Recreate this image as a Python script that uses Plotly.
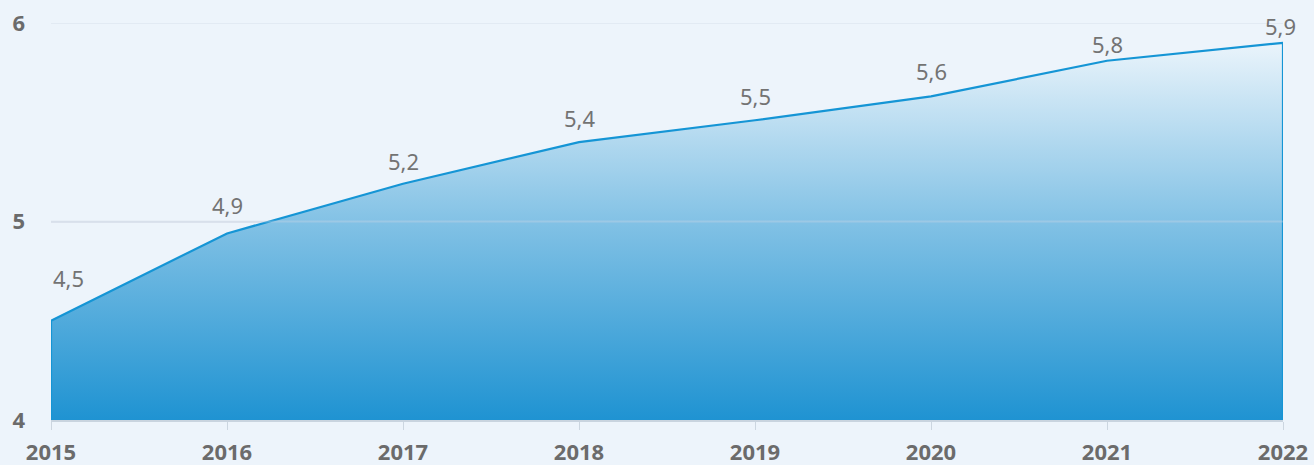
import plotly.graph_objects as go

years = [2015, 2016, 2017, 2018, 2019, 2020, 2021, 2022]
values = [4.50, 4.94, 5.19, 5.40, 5.51, 5.63, 5.81, 5.90]
labels = ["4,5", "4,9", "5,2", "5,4", "5,5", "5,6", "5,8", "5,9"]
y_ticks = [4, 5, 6]
y_min = 4

BG = "#edf4fb"
LINE = "#1595d5"
GREY = "#6b6b6b"
label_yshift = [26, 11, 6, 7, 7, 8, 0, 0]  # pixel offsets of value labels

fig = go.Figure()

# closed area polygon (vertical edges down to the axis)
poly_x = [years[0]] + years + [years[-1]]
poly_y = [y_min] + values + [y_min]
fig.add_trace(go.Scatter(
    x=poly_x, y=poly_y, mode="lines", fill="toself",
    line=dict(color=LINE, width=2.2),
    fillgradient=dict(type="vertical",
                      colorscale=[[0, "#1f93d2"], [0.5, "#7dbfe4"], [1, "#eaf4fb"]]),
    hoverinfo="skip", showlegend=False,
))

# faint gridlines drawn over the area
for v in y_ticks[1:]:
    fig.add_shape(type="line", xref="paper", x0=0, x1=1, yref="y", y0=v, y1=v,
                  line=dict(color="rgba(205,215,228,0.35)", width=2), layer="above")

# value labels
for i, (x, y, t) in enumerate(zip(years, values, labels)):
    fig.add_annotation(
        x=x, y=y, text=t, showarrow=False,
        xanchor="left" if i == 0 else "center", yanchor="bottom",
        yshift=label_yshift[i],
        xshift=-3 if i == len(years) - 1 else 0,
        font=dict(family="Noto Sans", size=22, color="#737373"),
    )

fig.update_layout(
    width=1314, height=465,
    margin=dict(l=51, r=31, t=23, b=45, autoexpand=False),
    paper_bgcolor=BG, plot_bgcolor=BG,
    font=dict(family="Noto Sans", color=GREY),
)
fig.update_xaxes(
    range=[years[0], years[-1]], tickvals=years, ticktext=[str(y) for y in years],
    showgrid=False, zeroline=False, automargin=False,
    showline=True, linecolor="#c9d4df", linewidth=2,
    ticks="outside", ticklen=8, tickcolor="#ccd6e0", tickwidth=1,
    ticklabelstandoff=4,
    tickfont=dict(family="Noto Sans", size=22, color=GREY, weight="bold"),
)
fig.update_yaxes(
    range=[y_min, 6], tickvals=y_ticks,
    showgrid=True, gridcolor="#dde5ee", gridwidth=2, zeroline=False,
    showline=False, ticks="", ticklabelstandoff=25, automargin=False,
    tickfont=dict(family="Noto Sans", size=22, color=GREY, weight="bold"),
)

fig.write_html(
    "out.html",
    config={"displayModeBar": False},
    post_script="document.body.style.margin='0';document.body.style.overflow='hidden';",
)
